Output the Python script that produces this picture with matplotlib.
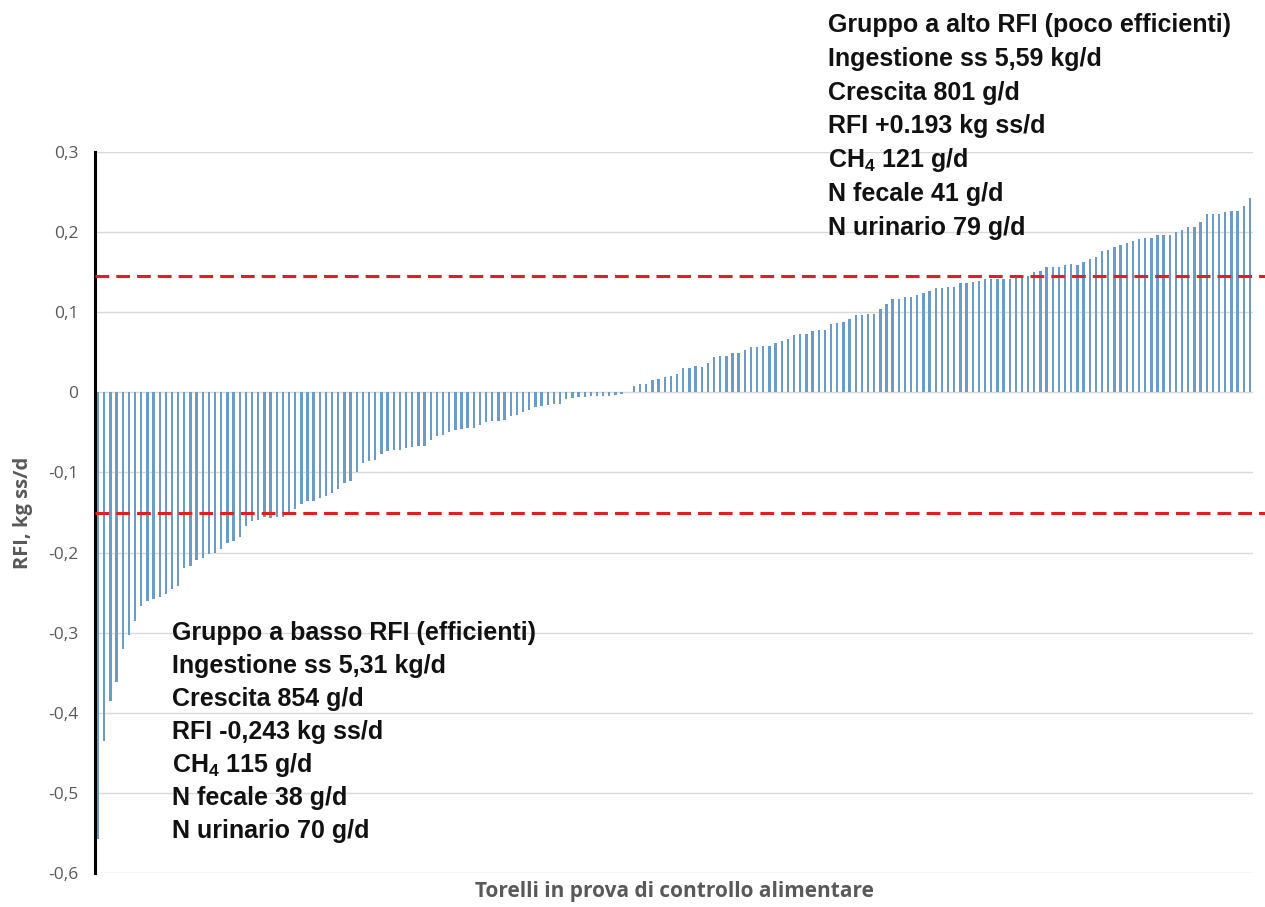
import matplotlib
matplotlib.use("Agg")
import matplotlib.pyplot as plt

# RFI of each bull, sorted (kg ss/d)
rfi_low = [-0.557, -0.435, -0.385, -0.362, -0.320, -0.303, -0.286, -0.267,
           -0.261, -0.258, -0.256, -0.252, -0.246, -0.242, -0.219, -0.217,
           -0.209, -0.207, -0.202, -0.200, -0.196, -0.188, -0.186, -0.180,
           -0.167, -0.161, -0.159, -0.155, -0.157, -0.155, -0.155, -0.150]
rfi_mid_neg = [-0.146, -0.140, -0.136, -0.136, -0.132, -0.130, -0.126, -0.121,
               -0.113, -0.111, -0.099, -0.088, -0.086, -0.084, -0.077, -0.073,
               -0.072, -0.072, -0.069, -0.068, -0.067, -0.067, -0.059, -0.055,
               -0.053, -0.050, -0.047, -0.046, -0.045, -0.044, -0.041, -0.037,
               -0.036, -0.036, -0.034, -0.030, -0.028, -0.024, -0.022, -0.018,
               -0.017, -0.016, -0.014, -0.014, -0.008, -0.007, -0.006, -0.006,
               -0.005, -0.005, -0.005, -0.004, -0.003, -0.002]
rfi_mid_pos = [0.001, 0.0075, 0.010, 0.010, 0.016, 0.017, 0.019, 0.021, 0.023,
               0.031, 0.031, 0.033, 0.032, 0.037, 0.044, 0.045, 0.045, 0.049,
               0.049, 0.053, 0.056, 0.056, 0.058, 0.058, 0.062, 0.064, 0.066,
               0.071, 0.073, 0.073, 0.076, 0.078, 0.078, 0.085, 0.087, 0.088,
               0.091, 0.096, 0.096, 0.098, 0.098, 0.104, 0.110, 0.117, 0.117]
rfi_high = [0.119, 0.119, 0.122, 0.124, 0.126, 0.130, 0.130, 0.132, 0.132,
            0.136, 0.136, 0.138, 0.139, 0.141, 0.141, 0.141, 0.142, 0.142,
            0.143, 0.143, 0.145, 0.150, 0.152, 0.157, 0.157, 0.157, 0.159,
            0.160, 0.159, 0.163, 0.167, 0.169, 0.176, 0.178, 0.181, 0.184,
            0.186, 0.189, 0.191, 0.193, 0.193, 0.197, 0.197, 0.197, 0.200,
            0.203, 0.207, 0.207, 0.213, 0.222, 0.223, 0.223, 0.225, 0.226,
            0.226, 0.233, 0.243]
rfi = rfi_low + rfi_mid_neg + rfi_mid_pos + rfi_high

thresholds = [0.145, -0.150]
y_ticks = [0.3, 0.2, 0.1, 0.0, -0.1, -0.2, -0.3, -0.4, -0.5, -0.6]
y_ticklabels = ["0,3", "0,2", "0,1", "0", "-0,1", "-0,2", "-0,3", "-0,4",
                "-0,5", "-0,6"]

high_lines = ["Gruppo a alto RFI (poco efficienti)",
              "Ingestione ss 5,59 kg/d",
              "Crescita 801 g/d",
              "RFI +0.193 kg ss/d",
              "CH$_4$ 121 g/d",
              "N fecale 41 g/d",
              "N urinario 79 g/d"]
low_lines = ["Gruppo a basso RFI (efficienti)",
             "Ingestione ss 5,31 kg/d",
             "Crescita 854 g/d",
             "RFI -0,243 kg ss/d",
             "CH$_4$ 115 g/d",
             "N fecale 38 g/d",
             "N urinario 70 g/d"]

note_font = ["Liberation Sans Narrow", "Liberation Sans", "DejaVu Sans"]
plt.rcParams["mathtext.fontset"] = "custom"
plt.rcParams["mathtext.rm"] = "Liberation Sans:bold"
plt.rcParams["mathtext.default"] = "rm"

fig = plt.figure(figsize=(12.65, 9.07), dpi=100)
ax = fig.add_axes([0.0751, 0.0375, 0.9154, 0.7949])

x = list(range(len(rfi)))
ax.bar(x, rfi, width=0.38, color="#6C9BC5", zorder=2)

ax.set_xlim(-0.5, len(rfi) - 0.5)
ax.set_ylim(-0.6, 0.3)
ax.set_yticks(y_ticks)
ax.set_yticklabels(y_ticklabels, fontfamily="Open Sans", fontsize=12.5,
                   color="#595959")
ax.tick_params(axis="y", length=0, pad=12)
ax.set_xticks([])
ax.grid(axis="y", color="#D9D9D9", linewidth=1, zorder=0)
ax.set_axisbelow(True)
for s in ["top", "right", "bottom"]:
    ax.spines[s].set_visible(False)
ax.spines["left"].set_color("black")
ax.spines["left"].set_linewidth(2.2)
ax.spines["left"].set_zorder(3)

for t in thresholds:
    ax.axhline(t, xmin=0, xmax=1.01, color="#E0201E", linewidth=2.2,
               dashes=(4.5, 2.3), clip_on=False, zorder=4)

ax.set_ylabel("RFI, kg ss/d", fontfamily="Open Sans", fontweight="bold",
              fontsize=14.5, color="#595959")
ax.yaxis.set_label_coords(-0.0535, 0.5)
ax.set_xlabel("Torelli in prova di controllo alimentare",
              fontfamily="Open Sans", fontweight="bold", fontsize=15,
              color="#595959", labelpad=6)

for i, line in enumerate(high_lines):
    fig.text(828 / 1265, 1 - (25 + i * 33.8) / 907, line, family=note_font,
             fontweight="bold", fontsize=18, color="#111111",
             va="center", ha="left")
for i, line in enumerate(low_lines):
    fig.text(172 / 1265, 1 - (633 + i * 33) / 907, line, family=note_font,
             fontweight="bold", fontsize=18, color="#111111",
             va="center", ha="left")

fig.savefig("out.png", dpi=100)
